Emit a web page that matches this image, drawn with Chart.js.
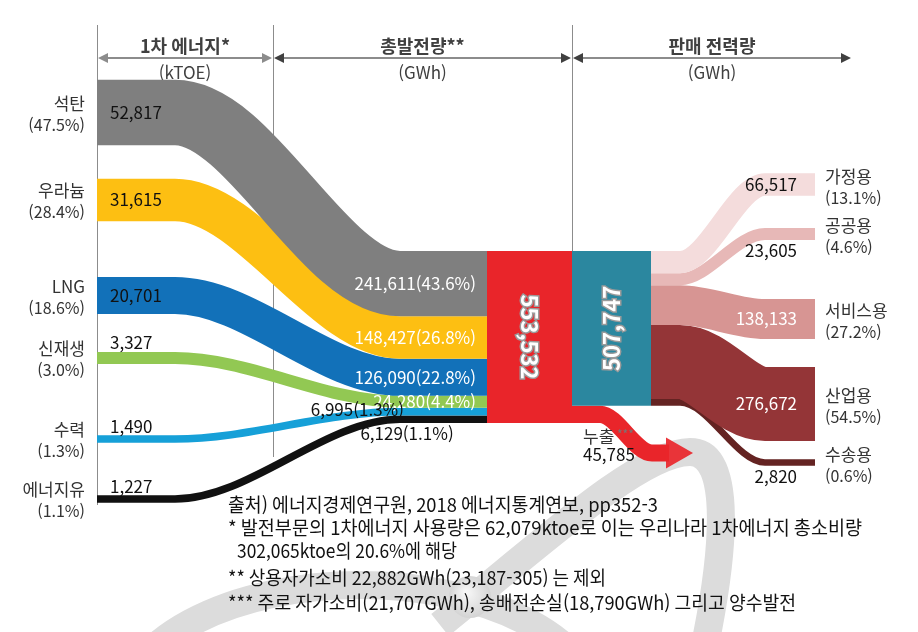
<!DOCTYPE html>
<html lang="ko">
<head>
<meta charset="utf-8">
<title>발전부문 에너지 흐름</title>
<script src="https://cdn.jsdelivr.net/npm/chart.js@4/dist/chart.umd.min.js"></script>
<style>
  html, body { margin: 0; padding: 0; background: #fff; }
  #flow { display: block; }
</style>
</head>
<body>
<canvas id="flow" width="918" height="632"></canvas>
<script>
// ---- values ----
const stages = ['1차 에너지*', '총발전량**', '판매 전력량'];
const stageUnits = ['(kTOE)', '(GWh)', '(GWh)'];

const sources = ['석탄', '우라늄', 'LNG', '신재생', '수력', '에너지유'];
const sourceKtoe = [52817, 31615, 20701, 3327, 1490, 1227];
const sourceShare = [47.5, 28.4, 18.6, 3.0, 1.3, 1.1];
const generationGwh = [241611, 148427, 126090, 24280, 6995, 6129];
const generationShare = [43.6, 26.8, 22.8, 4.4, 1.3, 1.1];

const totalGeneration = 553532;
const totalSales = 507747;
const lossGwh = 45785;

const sectors = ['가정용', '공공용', '서비스용', '산업용', '수송용'];
const salesGwh = [66517, 23605, 138133, 276672, 2820];
const salesShare = [13.1, 4.6, 27.2, 54.5, 0.6];

const footnotes = [
  '출처) 에너지경제연구원, 2018 에너지통계연보, pp352-3',
  '* 발전부문의 1차에너지 사용량은 62,079ktoe로 이는 우리나라 1차에너지 총소비량',
  '302,065ktoe의 20.6%에 해당',
  '** 상용자가소비 22,882GWh(23,187-305) 는 제외',
  '*** 주로 자가소비(21,707GWh), 송배전손실(18,790GWh) 그리고 양수발전'
];

// ---- styles / layout ----
const FONT = '"Noto Sans CJK KR", "Noto Sans", sans-serif';
const sourceColors = ['#7f7f7f', '#fdbf12', '#1271b9', '#92c853', '#16a0d8', '#111111'];
const sectorColors = ['#f4dcdc', '#e7b8b7', '#d79593', '#943537', '#642322'];
const sectorTextColors = ['#111', '#111', '#fff', '#fff', '#111'];
const genColor = '#e9252a';
const salesColor = '#2b879f';

const X = { src: 97, srcBend: 175, genBend: 400, gen: 487, genBox: 572, salesBox: 651,
            salesBend1: 680, salesBend2: 765, sales: 815, arrow: 675 };
const nodeTop = 251;
const sourceY = [112.5, 200, 295.5, 358, 439, 499];
const sectorY = [184.5, 234, 319, 404, 462.5];
const arrowY = 453;
const headerX = [97, 273, 572, 852];
const headerLineEnd = [505, 457, 251];

// band width in px: small floor so thin flows stay visible
function bandWidth(v) { return 6 + v / 4070; }

function stack(values, top) {
  let y = top;
  return values.map(v => {
    const w = bandWidth(v);
    const s = { w: w, top: y, c: y + w / 2, bottom: y + w };
    y += w;
    return s;
  });
}

const genStack = stack(generationGwh, nodeTop);
const salesStack = stack(salesGwh, nodeTop);
const genBottom = genStack[genStack.length - 1].bottom;
const salesBottom = salesStack[salesStack.length - 1].bottom;
const lossW = bandWidth(lossGwh);

function flow(x0, x1, x2, x3, y0, y1, w, color) {
  return {
    data: [{x: x0, y: y0}, {x: x1, y: y0}, {x: x2, y: y1}, {x: x3, y: y1}],
    borderColor: color,
    borderWidth: w,
    borderCapStyle: 'butt',
    cubicInterpolationMode: 'monotone',
    pointRadius: 0,
    fill: false
  };
}

function box(x0, x1, top, bottom, color) {
  return {
    data: [{x: x0, y: (top + bottom) / 2}, {x: x1, y: (top + bottom) / 2}],
    borderColor: color,
    borderWidth: bottom - top,
    borderCapStyle: 'butt',
    pointRadius: 0,
    fill: false
  };
}

const datasets = [];
datasets.push(box(X.gen, X.genBox, nodeTop, genBottom, genColor));
datasets.push(box(X.genBox, X.salesBox, nodeTop, salesBottom, salesColor));
sources.forEach((s, i) => {
  datasets.push(flow(X.src, X.srcBend, X.genBend, X.gen, sourceY[i], genStack[i].c,
                     genStack[i].w, sourceColors[i]));
});
sectors.forEach((s, j) => {
  datasets.push(flow(X.salesBox, X.salesBend1, X.salesBend2, X.sales, salesStack[j].c, sectorY[j],
                     salesStack[j].w, sectorColors[j]));
});
// loss arrow
datasets.push({
  data: [{x: X.arrow, y: arrowY}],
  showLine: false,
  pointStyle: 'triangle',
  pointRotation: 90,
  pointRadius: 18,
  pointBackgroundColor: 'rgba(233,37,42,0.92)',
  pointBorderWidth: 0
});
datasets.push(flow(X.genBox, 600, 652, X.arrow - 6, salesBottom + lossW / 2, arrowY, lossW, genColor));

const fmt = v => v.toLocaleString('en-US');
const pct = v => '(' + v.toFixed(1) + '%)';

function txt(ctx, s, x, y, opts) {
  ctx.font = opts.font || ('17px ' + FONT);
  ctx.fillStyle = opts.color || '#222';
  ctx.textAlign = opts.align || 'left';
  ctx.textBaseline = 'middle';
  if (opts.max) ctx.fillText(s, x, y, opts.max); else ctx.fillText(s, x, y);
}

const watermark = {
  id: 'watermark',
  beforeDraw(chart) {
    const ctx = chart.ctx;
    ctx.save();
    ctx.strokeStyle = '#dcdcdc';
    ctx.lineWidth = 28;
    ctx.beginPath();
    ctx.ellipse(360, 715, 240, 130, 0, Math.PI, Math.PI * 2);
    ctx.stroke();
    ctx.beginPath();
    ctx.moveTo(440, 625);
    ctx.bezierCurveTo(540, 545, 640, 452, 690, 452);
    ctx.bezierCurveTo(735, 452, 722, 560, 706, 640);
    ctx.stroke();
    const g = ctx.createRadialGradient(466, 592, 2, 470, 597, 22);
    g.addColorStop(0, '#f6f6f6');
    g.addColorStop(1, '#d2d2d2');
    ctx.fillStyle = g;
    ctx.beginPath();
    ctx.arc(470, 597, 21, 0, Math.PI * 2);
    ctx.fill();
    ctx.restore();
  }
};

const header = {
  id: 'header',
  beforeDatasetsDraw(chart) {
    const ctx = chart.ctx;
    const x = chart.scales.x, y = chart.scales.y;
    ctx.save();
    ctx.strokeStyle = '#8c8c8c';
    ctx.lineWidth = 1;
    headerLineEnd.forEach((end, i) => {
      const px = Math.round(x.getPixelForValue(headerX[i])) + 0.5;
      ctx.beginPath();
      ctx.moveTo(px, y.getPixelForValue(25));
      ctx.lineTo(px, y.getPixelForValue(end));
      ctx.stroke();
    });
    const ay = y.getPixelForValue(58);
    ctx.fillStyle = '#8c8c8c';
    ctx.lineWidth = 2;
    for (let i = 0; i < 3; i++) {
      const a = x.getPixelForValue(headerX[i]) + 1, b = x.getPixelForValue(headerX[i + 1]) - 1;
      ctx.beginPath();
      ctx.moveTo(a + 6, ay);
      ctx.lineTo(b - 6, ay);
      ctx.stroke();
      ctx.beginPath();
      ctx.moveTo(a, ay); ctx.lineTo(a + 10, ay - 5); ctx.lineTo(a + 10, ay + 5); ctx.closePath();
      ctx.moveTo(b, ay); ctx.lineTo(b - 10, ay - 5); ctx.lineTo(b - 10, ay + 5); ctx.closePath();
      ctx.fill();
      const cx = (headerX[i] + headerX[i + 1]) / 2;
      txt(ctx, stages[i], x.getPixelForValue(cx), y.getPixelForValue(46),
          {font: 'bold 18px ' + FONT, color: '#404040', align: 'center'});
      txt(ctx, stageUnits[i], x.getPixelForValue(cx), y.getPixelForValue(73),
          {font: '17px ' + FONT, color: '#404040', align: 'center'});
    }
    ctx.restore();
  }
};

const labels = {
  id: 'labels',
  afterDatasetsDraw(chart) {
    const ctx = chart.ctx;
    const px = v => chart.scales.x.getPixelForValue(v);
    const py = v => chart.scales.y.getPixelForValue(v);
    ctx.save();

    // primary energy sources
    sources.forEach((s, i) => {
      txt(ctx, s, px(85), py(sourceY[i] - 9), {font: '17px ' + FONT, color: '#333', align: 'right'});
      txt(ctx, pct(sourceShare[i]), px(85), py(sourceY[i] + 12), {font: '16px ' + FONT, color: '#333', align: 'right'});
      const w = genStack[i].w;
      const ly = w >= 20 ? sourceY[i] : sourceY[i] - w / 2 - 9;
      txt(ctx, fmt(sourceKtoe[i]), px(110), py(ly), {color: '#111'});
    });

    // generation
    generationGwh.forEach((v, i) => {
      const s = genStack[i];
      const t = fmt(v) + pct(generationShare[i]);
      if (s.w >= 10) {
        txt(ctx, t, px(476), py(s.c), {color: '#fff', align: 'right'});
      } else if (i < generationGwh.length - 1) {
        txt(ctx, t, px(404), py(s.c - 2), {color: '#111', align: 'right'});
      } else {
        txt(ctx, t, px(407), py(s.bottom + 11), {color: '#111', align: 'center'});
      }
    });

    // node totals, rotated
    [[totalGeneration, (X.gen + X.genBox) / 2, (nodeTop + genBottom) / 2, Math.PI / 2],
     [totalSales, (X.genBox + X.salesBox) / 2, (nodeTop + salesBottom) / 2, -Math.PI / 2]].forEach(n => {
      ctx.save();
      ctx.translate(px(n[1]), py(n[2]));
      ctx.rotate(n[3]);
      ctx.font = 'bold 22px ' + FONT;
      ctx.textAlign = 'center';
      ctx.textBaseline = 'middle';
      ctx.lineWidth = 3;
      ctx.strokeStyle = '#9b9b9b';
      ctx.strokeText(fmt(n[0]), 0, 0);
      ctx.fillStyle = '#fff';
      ctx.fillText(fmt(n[0]), 0, 0);
      ctx.restore();
    });

    // sales
    salesGwh.forEach((v, j) => {
      const s = salesStack[j];
      if (s.w >= 20) {
        txt(ctx, fmt(v), px(797), py(sectorY[j]), {color: sectorTextColors[j], align: 'right'});
      } else {
        txt(ctx, fmt(v), px(797), py(sectorY[j] + s.w / 2 + 11), {color: '#111', align: 'right'});
      }
      txt(ctx, sectors[j], px(825), py(sectorY[j] - 8), {font: '17px ' + FONT, color: '#333'});
      txt(ctx, pct(salesShare[j]), px(825), py(sectorY[j] + 13), {font: '16px ' + FONT, color: '#333'});
    });

    // loss
    txt(ctx, '누출', px(583), py(437), {color: '#333'});
    txt(ctx, '***', px(617), py(434), {font: '12px ' + FONT, color: '#777'});
    txt(ctx, fmt(lossGwh), px(583), py(455), {color: '#111'});

    // footnotes
    const fx = [228, 228, 237, 228, 228];
    const fy = [505, 528, 551, 578, 603];
    const fw = [430, 634, 220, 378, 568];
    footnotes.forEach((f, i) => {
      txt(ctx, f, px(fx[i]), py(fy[i]), {font: '19px ' + FONT, color: '#111', max: fw[i]});
    });
    ctx.restore();
  }
};

new Chart(document.getElementById('flow'), {
  type: 'line',
  data: { datasets: datasets },
  options: {
    responsive: false,
    animation: false,
    layout: { padding: 0, autoPadding: false },
    plugins: { legend: { display: false }, tooltip: { enabled: false } },
    scales: {
      x: { type: 'linear', min: 0, max: 918, display: false },
      y: { type: 'linear', min: 0, max: 632, reverse: true, display: false }
    }
  },
  plugins: [watermark, header, labels]
});
</script>
</body>
</html>
